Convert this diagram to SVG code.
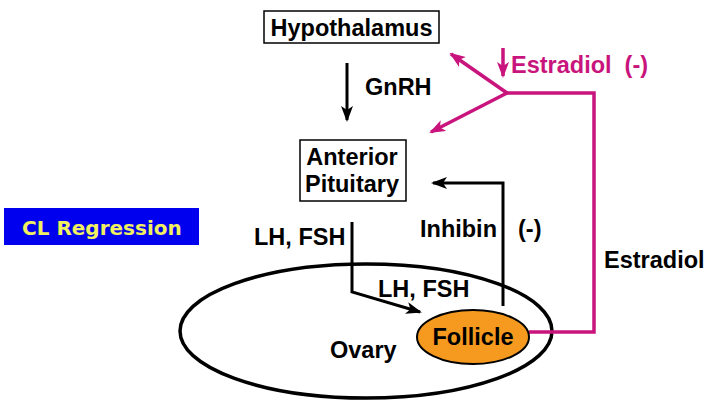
<svg xmlns="http://www.w3.org/2000/svg" width="720" height="405" viewBox="0 0 720 405">
<style>
text{font-family:"Liberation Sans",Arial,sans-serif;font-weight:bold;font-size:23.5px;fill:#000}
.box{fill:#fff;stroke:#000;stroke-width:1.5}
.k{fill:none;stroke:#000;stroke-width:3}
.m{fill:none;stroke:#C8147C;stroke-width:3.5}
.mt{fill:#C8147C}
</style>
<defs>
<marker id="am" markerWidth="16" markerHeight="12" refX="14" refY="6" orient="auto" markerUnits="userSpaceOnUse"><path d="M0,0 L16,6 L0,12 L4,6 Z" fill="#C8147C"/></marker>
<marker id="akb" markerWidth="16" markerHeight="12" refX="14" refY="6" orient="auto" markerUnits="userSpaceOnUse"><path d="M0,0 L16,6 L0,12 L4,6 Z" fill="#000"/></marker>
</defs>
<rect width="720" height="405" fill="#fff"/>
<g id="ovary">
<ellipse cx="366" cy="331" rx="186" ry="67" fill="none" stroke="#000" stroke-width="3.5"/>
<text x="330" y="358">Ovary</text>
</g>
<g id="connectors">
<path class="k" d="M347,63 V120" marker-end="url(#akb)"/>
<path class="k" d="M352,222 V292 L420,312" marker-end="url(#akb)"/>
<path class="k" d="M503,306 V183 H433" marker-end="url(#akb)"/>
<path class="m" d="M507,93 L451,54" marker-end="url(#am)"/>
<path class="m" d="M507,93 L431,132" marker-end="url(#am)"/>
<path class="m" d="M503,48 V76" marker-end="url(#am)"/>
<path class="m" d="M507,93 H594 V332 H529"/>
</g>
<g id="hypothalamus">
<rect class="box" x="264" y="11" width="175" height="32"/>
<text x="351.5" y="36" text-anchor="middle">Hypothalamus</text>
</g>
<g id="pituitary">
<rect class="box" x="300" y="140" width="106" height="61"/>
<text x="352" y="165" text-anchor="middle">Anterior</text>
<text x="352" y="192" text-anchor="middle">Pituitary</text>
</g>
<g id="cl">
<rect x="4" y="208" width="195" height="37" fill="#0000EE"/>
<text x="22" y="235" style="font-family:'DejaVu Sans',sans-serif;font-weight:bold;fill:#F0F060;font-size:20px">CL Regression</text>
</g>
<g id="follicle">
<ellipse cx="473" cy="337" rx="56" ry="27" fill="#F59A1E" stroke="#000" stroke-width="2"/>
<text x="473" y="345" text-anchor="middle">Follicle</text>
</g>
<g id="labels">
<text x="365" y="95">GnRH</text>
<text x="254" y="245">LH, FSH</text>
<text x="378" y="297">LH, FSH</text>
<text x="420" y="237">Inhibin</text>
<text x="518" y="237">(-)</text>
<text x="604" y="268">Estradiol</text>
<text x="511" y="73" class="mt" style="white-space:pre">Estradiol  (-)</text>
</g>
</svg>
